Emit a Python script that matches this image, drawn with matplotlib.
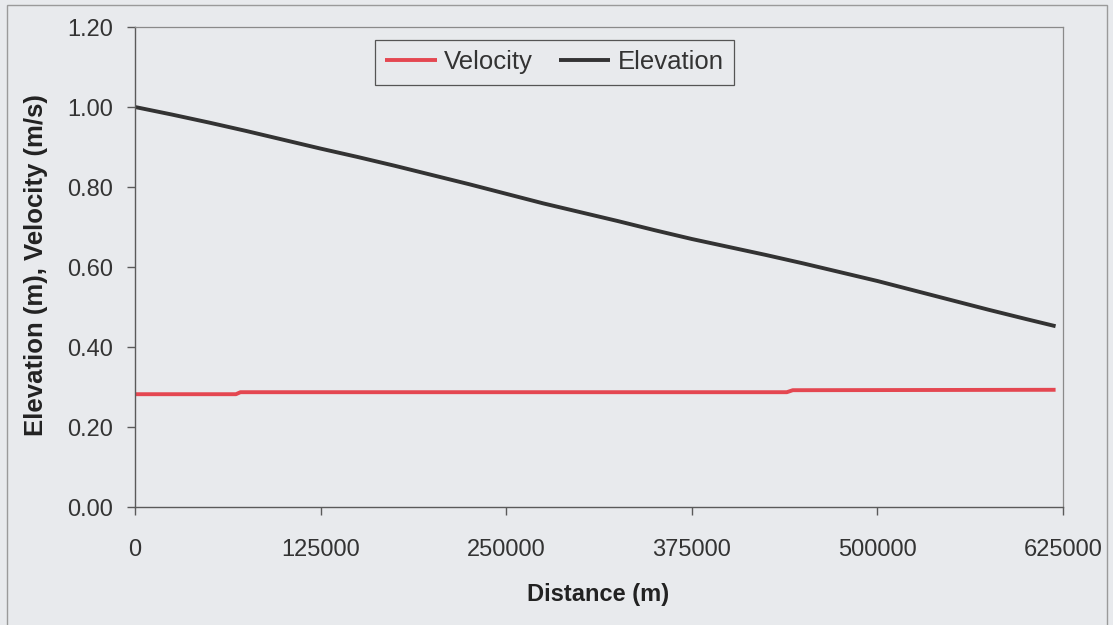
#!/usr/bin/python

"""
elevation and velocity along the channel, steady state.
"""

import matplotlib
matplotlib.use("Agg")
import matplotlib.pyplot as plt
from matplotlib.patches import Rectangle
from matplotlib.ticker import FormatStrFormatter

# elevation (m) read along the channel
dist_elev = [0, 25000, 50000, 75000, 100000, 125000, 150000, 175000, 200000,
             225000, 250000, 275000, 300000, 325000, 350000, 375000, 400000,
             425000, 450000, 475000, 500000, 525000, 550000, 575000, 600000,
             620000]
elevation = [1.000, 0.981, 0.961, 0.940, 0.918, 0.896, 0.875, 0.853, 0.830,
             0.807, 0.783, 0.759, 0.737, 0.715, 0.692, 0.670, 0.650,
             0.630, 0.609, 0.587, 0.565, 0.541, 0.517, 0.493, 0.470,
             0.452]

# velocity (m/s)
dist_vel = [0, 68000, 71000, 439000, 443000, 620000]
velocity = [0.282, 0.282, 0.287, 0.287, 0.292, 0.293]

xticks = [0, 125000, 250000, 375000, 500000, 625000]
yticks = [0.0, 0.2, 0.4, 0.6, 0.8, 1.0, 1.2]

bg = "#e8eaed"
W, H = 1113, 625


def plotData(figname):
  plt.rcParams['font.family'] = ['Liberation Sans', 'DejaVu Sans']

  fig = plt.figure(figsize=(W/100, H/100), dpi=100, facecolor=bg)
  ax = fig.add_axes([135/W, 1-507/H, (1063-135)/W, (507-27)/H])
  ax.set_facecolor(bg)

  ax.plot(dist_vel, velocity, color="#e44751", lw=2.8, label="Velocity",
          solid_capstyle="butt")
  ax.plot(dist_elev, elevation, color="#333333", lw=2.8, label="Elevation",
          solid_capstyle="butt")

  ax.set_xlim(0, 625000)
  ax.set_ylim(0, 1.2)
  ax.set_xticks(xticks)
  ax.set_yticks(yticks)
  ax.yaxis.set_major_formatter(FormatStrFormatter("%.2f"))

  for s in ["top", "right"]:
    ax.spines[s].set_color("#8a8a8a")
    ax.spines[s].set_linewidth(0.9)
  for s in ["left", "bottom"]:
    ax.spines[s].set_color("#5a5a5a")
    ax.spines[s].set_linewidth(1.0)

  ax.tick_params(axis="both", direction="out", length=6, width=1.0,
                 color="#5a5a5a", labelcolor="#333333", labelsize=17)
  ax.tick_params(axis="x", pad=17)
  ax.tick_params(axis="y", pad=10)

  leg = ax.legend(loc="upper left", bbox_to_anchor=((375-135)/928, 1-(40-27)/480),
                  ncol=2, frameon=True, fancybox=False, fontsize=18.5,
                  handlelength=2.0, handletextpad=0.3, columnspacing=1.0,
                  borderpad=0.4, borderaxespad=0)
  leg.get_frame().set_facecolor(bg)
  leg.get_frame().set_edgecolor("#555555")
  leg.get_frame().set_linewidth(0.9)
  leg.get_frame().set_alpha(1)
  for t in leg.get_texts():
    t.set_color("#333333")

  fig.text(598/W, 1-594/H, "Distance (m)", ha="center", va="center",
           fontsize=17, fontweight="bold", color="#222222")
  fig.text(36/W, 1-265/H, "Elevation (m), Velocity (m/s)", ha="center",
           va="center", rotation=90, fontsize=18.5, fontweight="bold",
           color="#222222")

  # outer chart frame
  fig.patches.append(Rectangle((7/W, -0.05), (1107-7)/W, 1.05-5/H,
                               transform=fig.transFigure, fill=False,
                               edgecolor="#9a9a9a", lw=1.0))

  fig.savefig(figname, dpi=100, facecolor=bg)
  plt.close()


def main():
  plotData("out.png")


if __name__ == "__main__":
  main()
